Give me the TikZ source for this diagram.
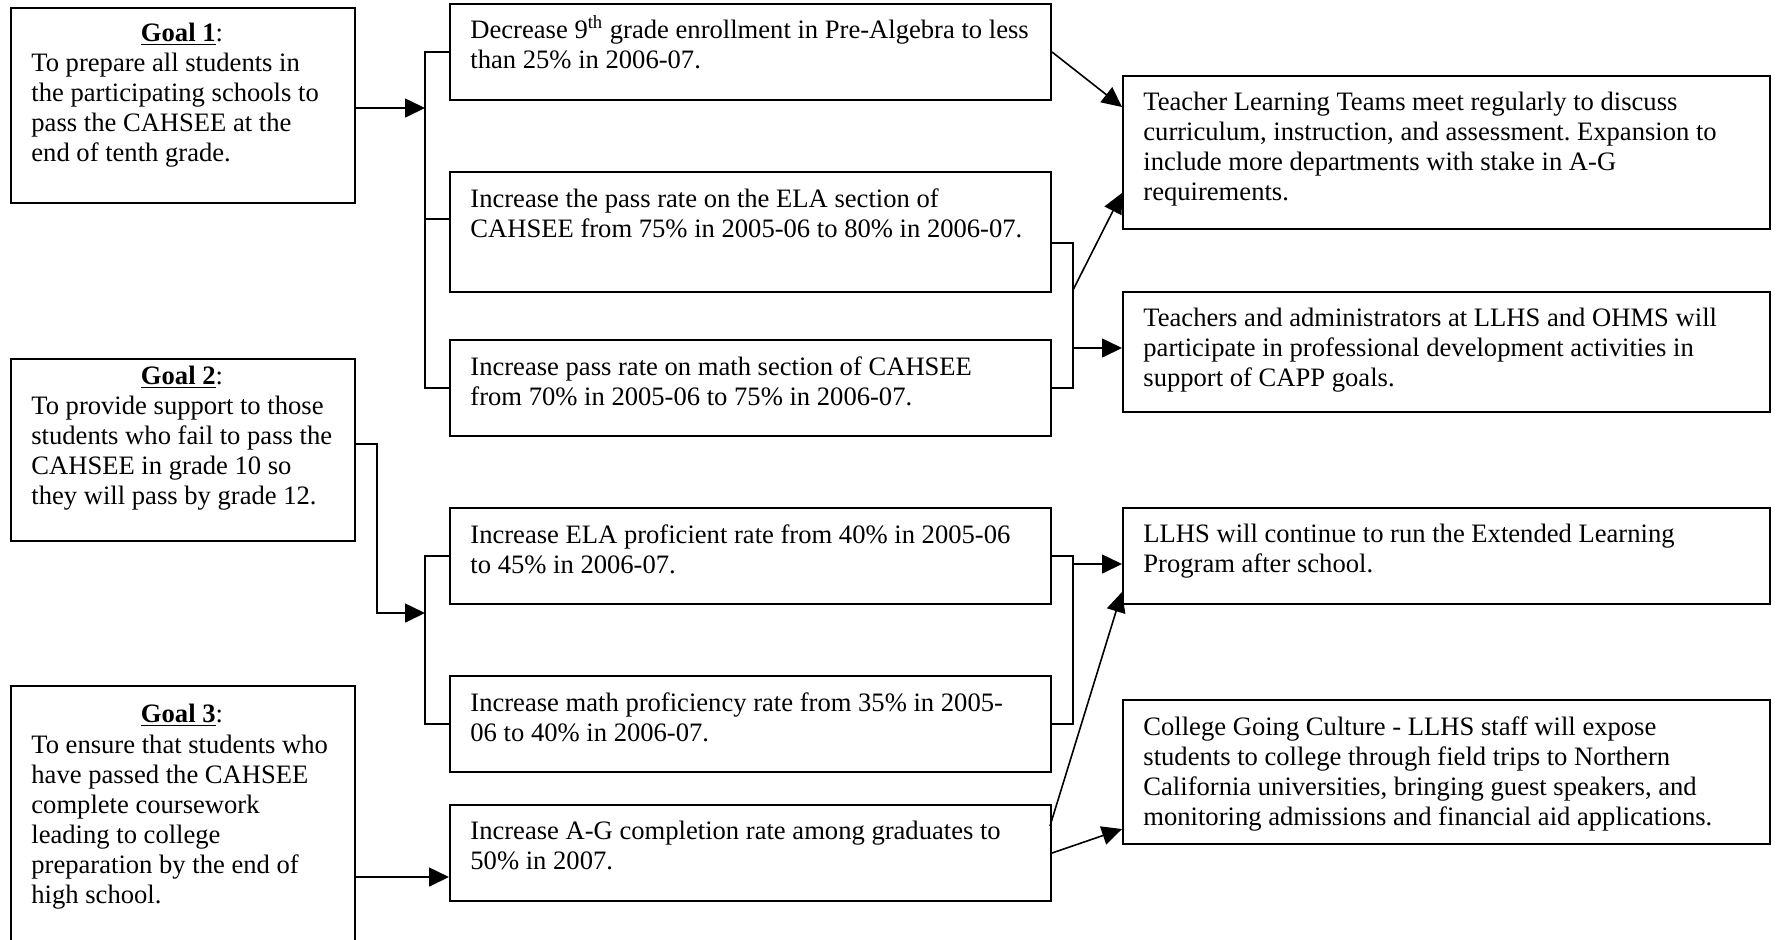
\documentclass[tikz,border=0pt]{standalone}
\usepackage{fontspec}
\setmainfont{Liberation Serif}
\usetikzlibrary{arrows.meta,calc}
\newcommand{\mybox}[5]{\node[box, minimum width={(#4-#2)*0.5pt}, minimum height={(#5-#3)*0.5pt}] (#1) at (#2,#3) {};}
\newcommand{\sfirst}{\rule{0pt}{9pt}}
\frenchspacing
\begin{document}
\begin{tikzpicture}[x=0.5pt,y=-0.5pt,
  box/.style={draw, line width=1pt, inner sep=0pt, anchor=north west},
  txt/.style={anchor=north west, inner sep=0pt, align=left, font=\fontsize{13.3}{15}\selectfont},
  hdr/.style={anchor=base, inner sep=0pt, font=\fontsize{13.3}{15}\selectfont},
  conn/.style={line width=0.8pt},
  arr/.style={line width=0.8pt, -{Triangle[length=10pt,width=9.5pt]}}]
\useasboundingbox (0,0) rectangle (1777,939);

% left goal boxes
\mybox{g1}{10}{7}{354}{202}
\mybox{g2}{10}{358}{354}{540}
\mybox{g3}{10}{685}{354}{960}
\node[hdr] (g1h) at (182,41) {\underline{\textbf{Goal 1}}:};
\node[txt] (g1t) at ($(g1.north west)+(21,46)$) {\sfirst To prepare all students in\\the participating schools to\\pass the CAHSEE at the\\end of tenth grade.};
\node[hdr] (g2h) at (182,384) {\underline{\textbf{Goal 2}}:};
\node[txt] (g2t) at ($(g2.north west)+(21,38)$) {\sfirst To provide support to those\\students who fail to pass the\\CAHSEE in grade 10 so\\they will pass by grade 12.};
\node[hdr] (g3h) at (182,722) {\underline{\textbf{Goal 3}}:};
\node[txt] (g3t) at ($(g3.north west)+(21,50)$) {\sfirst To ensure that students who\\have passed the CAHSEE\\complete coursework\\leading to college\\preparation by the end of\\high school.};

% middle boxes
\mybox{b1}{449}{3}{1050}{99}
\mybox{b2}{449}{171}{1050}{291}
\mybox{b3}{449}{339}{1050}{435}
\mybox{b4}{449}{507}{1050}{603}
\mybox{b5}{449}{675}{1050}{771}
\mybox{b6}{449}{804}{1050}{900}
\node[txt] (b1t) at ($(b1.north west)+(21,17)$) {\sfirst Decrease 9\smash{\textsuperscript{th}} grade enrollment in Pre-Algebra to less\\than 25\% in 2006-07.};
\node[txt] (b2t) at ($(b2.north west)+(21,17)$) {\sfirst Increase the pass rate on the ELA section of\\CAHSEE from 75\% in 2005-06 to 80\% in 2006-07.};
\node[txt] (b3t) at ($(b3.north west)+(21,17)$) {\sfirst Increase pass rate on math section of CAHSEE\\from 70\% in 2005-06 to 75\% in 2006-07.};
\node[txt] (b4t) at ($(b4.north west)+(21,17)$) {\sfirst Increase ELA proficient rate from 40\% in 2005-06\\to 45\% in 2006-07.};
\node[txt] (b5t) at ($(b5.north west)+(21,17)$) {\sfirst Increase math proficiency rate from 35\% in 2005-\\06 to 40\% in 2006-07.};
\node[txt] (b6t) at ($(b6.north west)+(21,17)$) {\sfirst Increase A-G completion rate among graduates to\\50\% in 2007.};

% right boxes
\mybox{r1}{1122}{75}{1769}{228}
\mybox{r2}{1122}{291}{1769}{411}
\mybox{r3}{1122}{507}{1769}{603}
\mybox{r4}{1122}{699}{1769}{843}
\node[txt] (r1t) at ($(r1.north west)+(21,17)$) {\sfirst Teacher Learning Teams meet regularly to discuss\\curriculum, instruction, and assessment. Expansion to\\include more departments with stake in A-G\\requirements.};
\node[txt] (r2t) at ($(r2.north west)+(21,17)$) {\sfirst Teachers and administrators at LLHS and OHMS will\\participate in professional development activities in\\support of CAPP goals.};
\node[txt] (r3t) at ($(r3.north west)+(21,17)$) {\sfirst LLHS will continue to run the Extended Learning\\Program after school.};
\node[txt] (r4t) at ($(r4.north west)+(21,17)$) {\sfirst College Going Culture - LLHS staff will expose\\students to college through field trips to Northern\\California universities, bringing guest speakers, and\\monitoring admissions and financial aid applications.};

% junction coordinates
\coordinate (j1) at (425,108);
\coordinate (k1) at (425,219);
\coordinate (j2) at (425,613);
\coordinate (k2) at (377,444);
\coordinate (j3) at (449,877);
\coordinate (m1) at (1073,243);
\coordinate (m2) at (1073,290);
\coordinate (m3) at (1073,348);
\coordinate (m4) at (1073,564);
\coordinate (p1) at (1122,107);
\coordinate (p2) at (1122,193);
\coordinate (p3) at (1122,592);
\coordinate (p4) at (1122,829);
\coordinate (q6) at (1050,826);

% goal 1 to its objectives
\draw[arr] (g1.east |- j1) -- (j1);
\draw[conn] (b1.west) -| (j1) |- (b3.west);
\draw[conn] (k1) -- (b2.west |- k1);
% goal 2
\draw[arr] (g2.east |- k2) -- (k2) |- (j2);
\draw[conn] (b4.west) -| (j2) |- (b5.west);
% goal 3
\draw[arr] (g3.east |- j3) -- (j3);

% objectives to activities
\draw[arr] (b1.east) -- (p1);
\draw[conn] (b2.east |- m1) -- (m1) |- (b3.east);
\draw[arr] (m3) -- (r2.west |- m3);
\draw[arr] (m2) -- (p2);
\draw[conn] (b4.east) -| (m4) |- (b5.east);
\draw[arr] (m4) -- (r3.west |- m4);
\draw[arr] (q6) -- (p3);
\draw[arr] (b6.east) -- (p4);
\end{tikzpicture}
\end{document}
